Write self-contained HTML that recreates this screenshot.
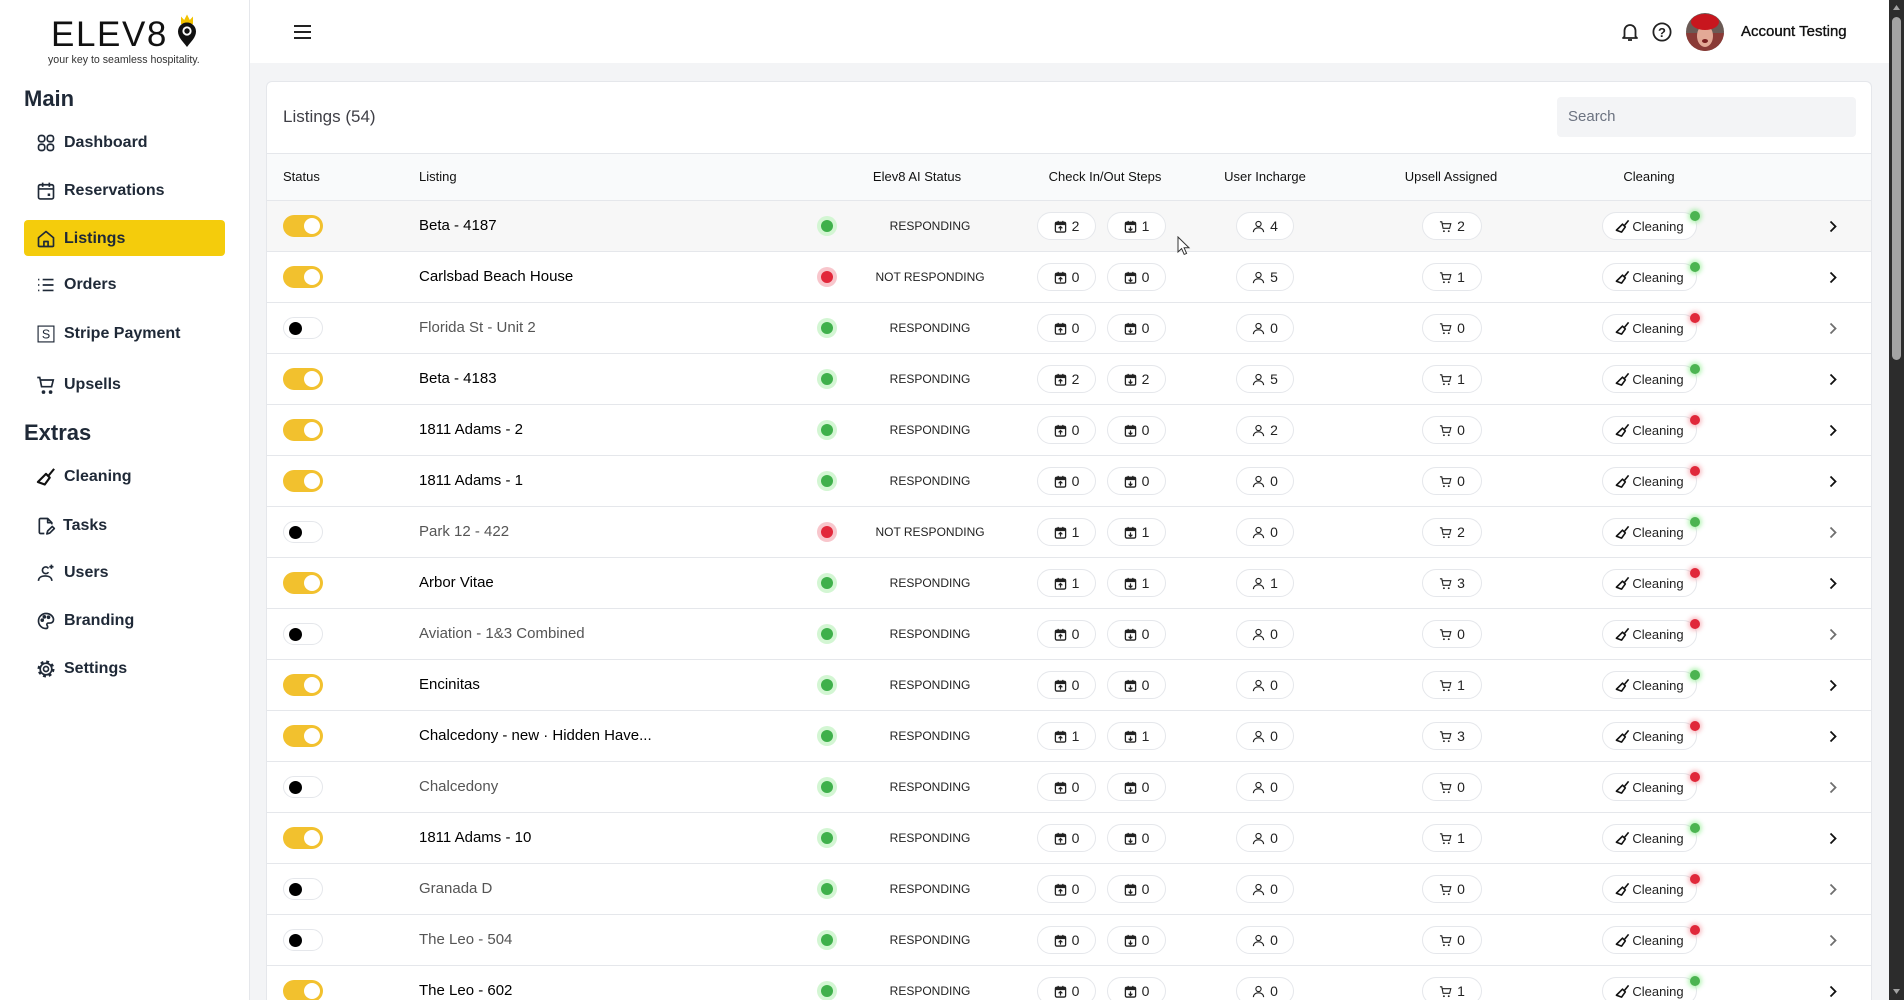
<!DOCTYPE html>
<html><head><meta charset="utf-8">
<style>
*{box-sizing:border-box;margin:0;padding:0}
html,body{width:1904px;height:1000px;overflow:hidden;background:#f3f4f6;font-family:"Liberation Sans",Arial,sans-serif;color:#111;position:relative}
#side{position:absolute;left:0;top:0;width:250px;height:1000px;background:#fff;border-right:1px solid #e5e7eb}
#top{position:absolute;left:250px;top:0;width:1639px;height:63px;background:#fff}
.logo{position:absolute;left:51px;top:17px;font-size:35px;line-height:35px;letter-spacing:1.6px;color:#111;font-weight:normal}
.tag{position:absolute;left:48px;top:53px;font-size:10.6px;line-height:14px;color:#333;white-space:nowrap}
.sh{position:absolute;left:24px;font-size:22px;line-height:28px;font-weight:bold;color:#1f2937}
.nav{position:absolute;left:0;width:250px;height:36px}
.nav svg{position:absolute;left:36px;top:8px;width:20px;height:20px}
.nav span{position:absolute;left:64px;top:0;line-height:36px;font-size:16px;font-weight:bold;color:#1f2937;white-space:nowrap}
.act{position:absolute;left:24px;top:220px;width:201px;height:36px;background:#f4cc0c;border-radius:4px}
#card{position:absolute;left:266px;top:81px;width:1606px;height:919px;background:#fff;border:1px solid #e5e7eb;border-bottom:none;border-radius:6px 6px 0 0}
.ttl{position:absolute;left:283px;top:105px;font-size:17px;line-height:24px;color:#3f3f46}
.search{position:absolute;left:1557px;top:97px;width:299px;height:40px;background:#f3f4f6;border-radius:4px;font-size:15px;line-height:40px;padding-left:11px;color:#6b7280}
.hdr{position:absolute;left:267px;top:153px;width:1604px;height:48px;background:#f9fafb;border-top:1px solid #e5e7eb;border-bottom:1px solid #e5e7eb}
.hdr div{position:absolute;top:0;line-height:46px;font-size:13px;color:#111;white-space:nowrap}
.hc{text-align:center;width:200px}
.row{position:absolute;left:267px;width:1604px;height:51px;border-bottom:1px solid #e5e7eb;background:#fff;overflow:hidden}
.row.hov{background:#f7f7f7}
.row.last{height:34px;border-bottom:none}
.tg{position:absolute;left:16px;top:14px;width:40px;height:22px;border-radius:11px}
.tg.on{background:#f2c12e}
.tg.on i{position:absolute;left:21px;top:3px;width:16px;height:16px;border-radius:50%;background:#fff}
.tg.of{background:#fff;border:1px solid #e5e7eb}
.tg.of i{position:absolute;left:5px;top:3.5px;width:13px;height:13px;border-radius:50%;background:#000}
.nm{position:absolute;left:152px;top:0;line-height:50px;font-size:15px;color:#000;white-space:nowrap}
.row.off .nm{color:#555}
.dt{position:absolute;left:550px;top:15px;width:20px;height:20px;border-radius:50%}
.dt i{position:absolute;left:4px;top:4px;width:12px;height:12px;border-radius:50%}
.dt.g{background:#d3f6d3}.dt.g i{background:#3fb04b}
.dt.r{background:#f8c6cc}.dt.r i{background:#e2283b}
.ai{position:absolute;left:596px;width:134px;top:0;line-height:50px;text-align:center;font-size:12px;color:#222;white-space:nowrap}
.pl{position:absolute;top:11px;height:28px;border:1px solid #e5e7eb;border-radius:14px;background:#fff;display:flex;align-items:center;justify-content:center;gap:5px;font-size:14px;color:#222}
.pl svg{width:13px;height:13px;flex:none}
.p1{left:770px;width:59px}.p2{left:840px;width:59px}.p3{left:969px;width:58px}.p4{left:1155px;width:60px}
.p5{left:1335px;width:95px;gap:2px;font-size:13px}
.p5 svg{width:15px;height:15px}
.cd{position:absolute;left:1423px;top:10px;width:10px;height:10px;border-radius:50%}
.cd.g{background:#4cb451;box-shadow:0 0 4px 2px rgba(100,230,100,.45)}
.cd.r{background:#e0283a;box-shadow:0 0 4px 2px rgba(240,120,130,.45)}
.ch{position:absolute;left:1562px;top:19px;width:8px;height:13px}
.row.off .ch{opacity:.6}
#sb{position:absolute;left:1889px;top:0;width:15px;height:1000px;background:#2c2c2c}
</style></head><body>

<svg width="0" height="0" style="position:absolute">
<defs>
<symbol id="cin" viewBox="0 0 14 14"><rect x="1.5" y="2.5" width="11" height="10.5" rx="1.5" fill="none" stroke="#222" stroke-width="1.4"/><rect x="1.5" y="2.5" width="11" height="3" fill="#222"/><path d="M4.5 1v2.5M9.5 1v2.5" stroke="#222" stroke-width="1.4"/><path d="M7 11.5V7.2M5 9 7 7 9 9" stroke="#222" fill="none" stroke-width="1.3"/></symbol>
<symbol id="cout" viewBox="0 0 14 14"><rect x="1.5" y="2.5" width="11" height="10.5" rx="1.5" fill="none" stroke="#222" stroke-width="1.4"/><rect x="1.5" y="2.5" width="11" height="3" fill="#222"/><path d="M4.5 1v2.5M9.5 1v2.5" stroke="#222" stroke-width="1.4"/><path d="M7 6.8v4.3M5 9.3 7 11.3 9 9.3" stroke="#222" fill="none" stroke-width="1.3"/></symbol>
<symbol id="usr" viewBox="0 0 14 14"><circle cx="7" cy="4.3" r="2.8" fill="none" stroke="#222" stroke-width="1.2"/><path d="M1.5 13c0-3 2.5-4.6 5.5-4.6s5.5 1.6 5.5 4.6" fill="none" stroke="#222" stroke-width="1.2"/></symbol>
<symbol id="cart" viewBox="0 0 14 14"><path d="M1 2h2l1.4 7h7l1.3-5H3.6" fill="none" stroke="#222" stroke-width="1.2"/><circle cx="5.3" cy="12" r="1" fill="#222"/><circle cx="10.5" cy="12" r="1" fill="#222"/></symbol>
<symbol id="broom" viewBox="0 0 16 16"><path d="M8 5.5 11 8.5 7 14 1.5 12 Z" fill="none" stroke="#111" stroke-width="1.7" stroke-linejoin="round"/><path d="M9.8 7.2 14.5 1.5" stroke="#111" stroke-width="1.7"/></symbol>
<symbol id="chev" viewBox="0 0 8 13"><polyline points="1.5,1.5 6.5,6.5 1.5,11.5" fill="none" stroke="#111" stroke-width="1.8"/></symbol>
</defs></svg>

<div id="side">
  <div class="logo">ELEV8</div>
  <svg style="position:absolute;left:175px;top:13px" width="26" height="36" viewBox="175 13 26 36">
    <polygon points="181,24 181,16.5 184.2,20 187,14.5 189.8,20 193,16.5 193,24" fill="#f2c200"/>
    <path d="M187 47C183 41.5 178 37.5 178 31.5A9 9 0 0 1 196 31.5C196 37.5 191 41.5 187 47Z" fill="#111"/>
    <circle cx="187" cy="31" r="4.6" fill="#fff"/><circle cx="187" cy="31" r="2.7" fill="#111"/>
  </svg>
  <div class="tag">your key to seamless hospitality.</div>

  <div class="sh" style="top:85px">Main</div>
  <div class="act"></div>
  <div class="nav" style="top:125px"><svg viewBox="0 0 24 24" fill="none" stroke="#1f2937" stroke-width="2"><rect x="3" y="3" width="7.5" height="7.5" rx="3"/><rect x="13.5" y="3" width="7.5" height="7.5" rx="3"/><rect x="3" y="13.5" width="7.5" height="7.5" rx="3"/><rect x="13.5" y="13.5" width="7.5" height="7.5" rx="3"/></svg><span>Dashboard</span></div>
  <div class="nav" style="top:173px"><svg viewBox="0 0 24 24" fill="none" stroke="#1f2937" stroke-width="2"><rect x="3" y="4.5" width="18" height="17" rx="2"/><path d="M3 9.5h18M8 2v5M16 2v5"/><rect x="14" y="15" width="3" height="3" fill="#1f2937" stroke="none"/></svg><span>Reservations</span></div>
  <div class="nav" style="top:221px"><svg viewBox="0 0 24 24" fill="none" stroke="#1f2937" stroke-width="2" stroke-linejoin="round"><path d="M3 10.5 12 3l9 7.5V20a1 1 0 0 1-1 1H4a1 1 0 0 1-1-1Z"/><path d="M9.5 21v-6h5v6"/></svg><span>Listings</span></div>
  <div class="nav" style="top:267px"><svg viewBox="0 0 24 24" fill="none" stroke="#1f2937" stroke-width="2"><path d="M8 5.5h13M8 12h13M8 18.5h13"/><path d="M2.5 5.5h1.5M2.5 12h1.5M2.5 18.5h1.5"/></svg><span>Orders</span></div>
  <div class="nav" style="top:316px"><svg viewBox="0 0 24 24" fill="none" stroke="#1f2937" stroke-width="1.4"><rect x="2.5" y="2.5" width="19" height="19"/><text x="12" y="17.5" text-anchor="middle" font-size="15" font-family="Liberation Sans,Arial,sans-serif" fill="#1f2937" stroke="none">S</text></svg><span>Stripe Payment</span></div>
  <div class="nav" style="top:367px"><svg viewBox="0 0 24 24" fill="none" stroke="#1f2937" stroke-width="2"><path d="M1.5 3h3l2.2 11h12l2-8H5.5"/><circle cx="9" cy="20.5" r="1.2" fill="#1f2937"/><circle cx="17.5" cy="20.5" r="1.2" fill="#1f2937"/></svg><span>Upsells</span></div>

  <div class="sh" style="top:419px">Extras</div>
  <div class="nav" style="top:459px"><svg viewBox="0 0 16 16"><use href="#broom"/></svg><span>Cleaning</span></div>
  <div class="nav" style="top:508px"><svg viewBox="0 0 24 24" fill="none" stroke="#1f2937" stroke-width="2" stroke-linejoin="round"><path d="M10 21H5.5a1.5 1.5 0 0 1-1.5-1.5v-15A1.5 1.5 0 0 1 5.5 3H14l5 5v2"/><path d="M14 3v5h5"/><path d="M13 21.5l1-3.5 5.5-5.5 2.5 2.5-5.5 5.5z"/></svg><span style="left:63px">Tasks</span></div>
  <div class="nav" style="top:555px"><svg viewBox="0 0 24 24" fill="none" stroke="#1f2937" stroke-width="2"><path d="M15 6.5A4 4 0 1 0 15 11"/><path d="M3 21.5c0-4 3.5-6 8-6s8 2 8 6"/><path d="M18.5 2v5M16 4.5h5"/></svg><span>Users</span></div>
  <div class="nav" style="top:603px"><svg viewBox="0 0 24 24" fill="none" stroke="#1f2937" stroke-width="2"><path d="M12 3a9 9 0 1 0 0 18c1.5 0 2-1 2-2 0-1.3-1-1.6-1-2.8 0-1 .8-1.7 1.8-1.7H17a4 4 0 0 0 4-4C21 6.3 17 3 12 3z"/><circle cx="7.5" cy="11" r="1.2" fill="#1f2937"/><circle cx="10" cy="7" r="1.2" fill="#1f2937"/><circle cx="15" cy="7.5" r="1.2" fill="#1f2937"/></svg><span>Branding</span></div>
  <div class="nav" style="top:651px"><svg viewBox="0 0 24 24" fill="none" stroke="#1f2937"><circle cx="12" cy="12" r="8.6" stroke-width="3.2" stroke-dasharray="3.4 3.35"/><circle cx="12" cy="12" r="7" stroke-width="2"/><circle cx="12" cy="12" r="3" stroke-width="2"/></svg><span>Settings</span></div>
</div>

<div id="top">
  <svg style="position:absolute;left:43px;top:23px" width="20" height="18" viewBox="0 0 20 18"><path d="M1 3h17M1 9h17M1 15h17" stroke="#222" stroke-width="2"/></svg>
  <svg style="position:absolute;left:1371px;top:22px" width="18" height="20" viewBox="0 0 18 20" fill="none" stroke="#222" stroke-width="1.8"><path d="M3.5 14.5V8.5a5.5 5.5 0 0 1 11 0v6l1.5 1.5H2z" stroke-linejoin="round"/><path d="M7 18h4"/></svg>
  <svg style="position:absolute;left:1402px;top:22px" width="20" height="20" viewBox="0 0 20 20"><circle cx="10" cy="10" r="8.6" fill="none" stroke="#222" stroke-width="1.8"/><text x="10" y="14.8" text-anchor="middle" font-size="13" font-weight="bold" font-family="Liberation Sans,Arial,sans-serif" fill="#222">?</text></svg>
  <svg style="position:absolute;left:1436px;top:13px" width="38" height="38" viewBox="0 0 38 38">
    <defs><clipPath id="av"><circle cx="19" cy="19" r="19"/></clipPath></defs>
    <g clip-path="url(#av)"><rect width="38" height="38" fill="#6b5a55"/><rect x="0" y="20" width="38" height="18" fill="#8a3a36"/><ellipse cx="19" cy="23" rx="8" ry="11" fill="#e3a996"/><ellipse cx="19" cy="9" rx="14" ry="8" fill="#c8161e"/><ellipse cx="19" cy="28" rx="3" ry="2" fill="#7a2020"/></g>
  </svg>
  <div style="position:absolute;left:1491px;top:20px;line-height:24px;font-size:15px;color:#111;-webkit-text-stroke:0.35px #111;white-space:nowrap">Account Testing</div>
</div>

<div id="card"></div>
<div class="ttl">Listings (54)</div>
<div class="search">Search</div>

<div class="hdr">
  <div style="left:16px">Status</div>
  <div style="left:152px">Listing</div>
  <div class="hc" style="left:550px">Elev8 AI Status</div>
  <div class="hc" style="left:738px">Check In/Out Steps</div>
  <div class="hc" style="left:898px">User Incharge</div>
  <div class="hc" style="left:1084px">Upsell Assigned</div>
  <div class="hc" style="left:1282px">Cleaning</div>
</div>

<div class="row hov" style="top:201px"><div class="tg on"><i></i></div><div class="nm">Beta - 4187</div><div class="dt g"><i></i></div><div class="ai">RESPONDING</div><div class="pl p1"><svg><use href="#cin"/></svg>2</div><div class="pl p2"><svg><use href="#cout"/></svg>1</div><div class="pl p3"><svg><use href="#usr"/></svg>4</div><div class="pl p4"><svg><use href="#cart"/></svg>2</div><div class="pl p5"><svg><use href="#broom"/></svg>Cleaning</div><div class="cd g"></div><svg class="ch"><use href="#chev"/></svg></div>

<div class="row" style="top:252px"><div class="tg on"><i></i></div><div class="nm">Carlsbad Beach House</div><div class="dt r"><i></i></div><div class="ai">NOT RESPONDING</div><div class="pl p1"><svg><use href="#cin"/></svg>0</div><div class="pl p2"><svg><use href="#cout"/></svg>0</div><div class="pl p3"><svg><use href="#usr"/></svg>5</div><div class="pl p4"><svg><use href="#cart"/></svg>1</div><div class="pl p5"><svg><use href="#broom"/></svg>Cleaning</div><div class="cd g"></div><svg class="ch"><use href="#chev"/></svg></div>

<div class="row off" style="top:303px"><div class="tg of"><i></i></div><div class="nm">Florida St - Unit 2</div><div class="dt g"><i></i></div><div class="ai">RESPONDING</div><div class="pl p1"><svg><use href="#cin"/></svg>0</div><div class="pl p2"><svg><use href="#cout"/></svg>0</div><div class="pl p3"><svg><use href="#usr"/></svg>0</div><div class="pl p4"><svg><use href="#cart"/></svg>0</div><div class="pl p5"><svg><use href="#broom"/></svg>Cleaning</div><div class="cd r"></div><svg class="ch"><use href="#chev"/></svg></div>

<div class="row" style="top:354px"><div class="tg on"><i></i></div><div class="nm">Beta - 4183</div><div class="dt g"><i></i></div><div class="ai">RESPONDING</div><div class="pl p1"><svg><use href="#cin"/></svg>2</div><div class="pl p2"><svg><use href="#cout"/></svg>2</div><div class="pl p3"><svg><use href="#usr"/></svg>5</div><div class="pl p4"><svg><use href="#cart"/></svg>1</div><div class="pl p5"><svg><use href="#broom"/></svg>Cleaning</div><div class="cd g"></div><svg class="ch"><use href="#chev"/></svg></div>

<div class="row" style="top:405px"><div class="tg on"><i></i></div><div class="nm">1811 Adams - 2</div><div class="dt g"><i></i></div><div class="ai">RESPONDING</div><div class="pl p1"><svg><use href="#cin"/></svg>0</div><div class="pl p2"><svg><use href="#cout"/></svg>0</div><div class="pl p3"><svg><use href="#usr"/></svg>2</div><div class="pl p4"><svg><use href="#cart"/></svg>0</div><div class="pl p5"><svg><use href="#broom"/></svg>Cleaning</div><div class="cd r"></div><svg class="ch"><use href="#chev"/></svg></div>

<div class="row" style="top:456px"><div class="tg on"><i></i></div><div class="nm">1811 Adams - 1</div><div class="dt g"><i></i></div><div class="ai">RESPONDING</div><div class="pl p1"><svg><use href="#cin"/></svg>0</div><div class="pl p2"><svg><use href="#cout"/></svg>0</div><div class="pl p3"><svg><use href="#usr"/></svg>0</div><div class="pl p4"><svg><use href="#cart"/></svg>0</div><div class="pl p5"><svg><use href="#broom"/></svg>Cleaning</div><div class="cd r"></div><svg class="ch"><use href="#chev"/></svg></div>

<div class="row off" style="top:507px"><div class="tg of"><i></i></div><div class="nm">Park 12 - 422</div><div class="dt r"><i></i></div><div class="ai">NOT RESPONDING</div><div class="pl p1"><svg><use href="#cin"/></svg>1</div><div class="pl p2"><svg><use href="#cout"/></svg>1</div><div class="pl p3"><svg><use href="#usr"/></svg>0</div><div class="pl p4"><svg><use href="#cart"/></svg>2</div><div class="pl p5"><svg><use href="#broom"/></svg>Cleaning</div><div class="cd g"></div><svg class="ch"><use href="#chev"/></svg></div>

<div class="row" style="top:558px"><div class="tg on"><i></i></div><div class="nm">Arbor Vitae</div><div class="dt g"><i></i></div><div class="ai">RESPONDING</div><div class="pl p1"><svg><use href="#cin"/></svg>1</div><div class="pl p2"><svg><use href="#cout"/></svg>1</div><div class="pl p3"><svg><use href="#usr"/></svg>1</div><div class="pl p4"><svg><use href="#cart"/></svg>3</div><div class="pl p5"><svg><use href="#broom"/></svg>Cleaning</div><div class="cd r"></div><svg class="ch"><use href="#chev"/></svg></div>

<div class="row off" style="top:609px"><div class="tg of"><i></i></div><div class="nm">Aviation - 1&amp;3 Combined</div><div class="dt g"><i></i></div><div class="ai">RESPONDING</div><div class="pl p1"><svg><use href="#cin"/></svg>0</div><div class="pl p2"><svg><use href="#cout"/></svg>0</div><div class="pl p3"><svg><use href="#usr"/></svg>0</div><div class="pl p4"><svg><use href="#cart"/></svg>0</div><div class="pl p5"><svg><use href="#broom"/></svg>Cleaning</div><div class="cd r"></div><svg class="ch"><use href="#chev"/></svg></div>

<div class="row" style="top:660px"><div class="tg on"><i></i></div><div class="nm">Encinitas</div><div class="dt g"><i></i></div><div class="ai">RESPONDING</div><div class="pl p1"><svg><use href="#cin"/></svg>0</div><div class="pl p2"><svg><use href="#cout"/></svg>0</div><div class="pl p3"><svg><use href="#usr"/></svg>0</div><div class="pl p4"><svg><use href="#cart"/></svg>1</div><div class="pl p5"><svg><use href="#broom"/></svg>Cleaning</div><div class="cd g"></div><svg class="ch"><use href="#chev"/></svg></div>

<div class="row" style="top:711px"><div class="tg on"><i></i></div><div class="nm">Chalcedony - new · Hidden Have...</div><div class="dt g"><i></i></div><div class="ai">RESPONDING</div><div class="pl p1"><svg><use href="#cin"/></svg>1</div><div class="pl p2"><svg><use href="#cout"/></svg>1</div><div class="pl p3"><svg><use href="#usr"/></svg>0</div><div class="pl p4"><svg><use href="#cart"/></svg>3</div><div class="pl p5"><svg><use href="#broom"/></svg>Cleaning</div><div class="cd r"></div><svg class="ch"><use href="#chev"/></svg></div>

<div class="row off" style="top:762px"><div class="tg of"><i></i></div><div class="nm">Chalcedony</div><div class="dt g"><i></i></div><div class="ai">RESPONDING</div><div class="pl p1"><svg><use href="#cin"/></svg>0</div><div class="pl p2"><svg><use href="#cout"/></svg>0</div><div class="pl p3"><svg><use href="#usr"/></svg>0</div><div class="pl p4"><svg><use href="#cart"/></svg>0</div><div class="pl p5"><svg><use href="#broom"/></svg>Cleaning</div><div class="cd r"></div><svg class="ch"><use href="#chev"/></svg></div>

<div class="row" style="top:813px"><div class="tg on"><i></i></div><div class="nm">1811 Adams - 10</div><div class="dt g"><i></i></div><div class="ai">RESPONDING</div><div class="pl p1"><svg><use href="#cin"/></svg>0</div><div class="pl p2"><svg><use href="#cout"/></svg>0</div><div class="pl p3"><svg><use href="#usr"/></svg>0</div><div class="pl p4"><svg><use href="#cart"/></svg>1</div><div class="pl p5"><svg><use href="#broom"/></svg>Cleaning</div><div class="cd g"></div><svg class="ch"><use href="#chev"/></svg></div>

<div class="row off" style="top:864px"><div class="tg of"><i></i></div><div class="nm">Granada D</div><div class="dt g"><i></i></div><div class="ai">RESPONDING</div><div class="pl p1"><svg><use href="#cin"/></svg>0</div><div class="pl p2"><svg><use href="#cout"/></svg>0</div><div class="pl p3"><svg><use href="#usr"/></svg>0</div><div class="pl p4"><svg><use href="#cart"/></svg>0</div><div class="pl p5"><svg><use href="#broom"/></svg>Cleaning</div><div class="cd r"></div><svg class="ch"><use href="#chev"/></svg></div>

<div class="row off" style="top:915px"><div class="tg of"><i></i></div><div class="nm">The Leo - 504</div><div class="dt g"><i></i></div><div class="ai">RESPONDING</div><div class="pl p1"><svg><use href="#cin"/></svg>0</div><div class="pl p2"><svg><use href="#cout"/></svg>0</div><div class="pl p3"><svg><use href="#usr"/></svg>0</div><div class="pl p4"><svg><use href="#cart"/></svg>0</div><div class="pl p5"><svg><use href="#broom"/></svg>Cleaning</div><div class="cd r"></div><svg class="ch"><use href="#chev"/></svg></div>

<div class="row last" style="top:966px"><div class="tg on"><i></i></div><div class="nm">The Leo - 602</div><div class="dt g"><i></i></div><div class="ai">RESPONDING</div><div class="pl p1"><svg><use href="#cin"/></svg>0</div><div class="pl p2"><svg><use href="#cout"/></svg>0</div><div class="pl p3"><svg><use href="#usr"/></svg>0</div><div class="pl p4"><svg><use href="#cart"/></svg>1</div><div class="pl p5"><svg><use href="#broom"/></svg>Cleaning</div><div class="cd g"></div><svg class="ch"><use href="#chev"/></svg></div>

<svg style="position:absolute;left:1177px;top:236px" width="14" height="20" viewBox="0 0 14 20"><path d="M1 1v15l3.6-3.4 2.6 5.8 2.4-1-2.5-5.6H12Z" fill="#fff" stroke="#333" stroke-width="1"/></svg>

<div id="sb">
  <svg style="position:absolute;left:0;top:0" width="15" height="1000" viewBox="0 0 15 1000">
    <polygon points="7.5,5 11,10 4,10" fill="#a3a3a3"/>
    <rect x="3" y="17" width="9" height="343" rx="4.5" fill="#a3a3a3"/>
    <polygon points="4,989 11,989 7.5,994" fill="#a3a3a3"/>
  </svg>
</div>
</body></html>
